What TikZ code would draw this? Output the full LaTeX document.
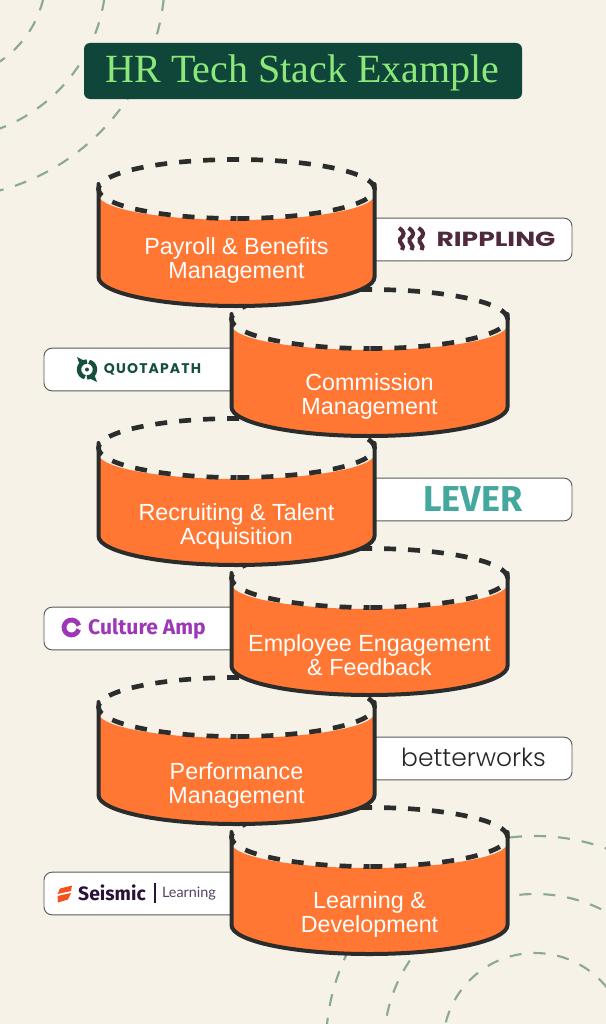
\documentclass[tikz,border=0pt]{standalone}
\usepackage{fontspec}
\setmainfont{Liberation Sans}
\newfontfamily\titlefont{Liberation Serif}
\newfontfamily\wordfont[FakeStretch=1.3]{Poppins}
\newfontfamily\quotafont[LetterSpace=8]{Poppins}
\newfontfamily\thinfont[UprightFont=* Light]{Poppins}
\newfontfamily\markfont{Fira Sans}
\newfontfamily\lightfont{Lato}
\usepackage{tikz}
\usetikzlibrary{positioning}
\definecolor{paper}{HTML}{F6F2E8}
\definecolor{pine}{HTML}{10463A}
\definecolor{mint}{HTML}{8CE878}
\definecolor{sage}{HTML}{8BA898}
\definecolor{ember}{HTML}{FF7733}
\definecolor{coal}{HTML}{2B2C2C}
\definecolor{plum}{HTML}{4E2A3C}
\definecolor{quotagreen}{HTML}{14503D}
\definecolor{leverteal}{HTML}{45A89E}
\definecolor{amp}{HTML}{9C38B6}
\definecolor{seis}{HTML}{2A1238}
\definecolor{seisred}{HTML}{F4511E}

\begin{document}
\begin{tikzpicture}[x=0.75pt,y=-0.75pt,
        sagearc/.style={draw=sage, line width=1.6pt, dash pattern=on 9pt off 9pt},
        logobox/.style={rectangle, draw=black!65, fill=white, line width=0.7pt, rounded corners=6pt, minimum width=#1, minimum height=32pt, inner sep=0pt},
        stacklabel/.style={text=white, align=center, font=\fontsize{17.5}{18}\selectfont, inner sep=0pt},
        stackdisc/.pic={
            \fill[paper] (0,0) ellipse [x radius=138, y radius=30];
            \fill[ember] (-138,6) arc [start angle=180, end angle=0, x radius=138, y radius=25] -- (138,88) arc [start angle=0, end angle=180, x radius=138, y radius=29] -- cycle;
            \draw[coal, line width=3pt, line cap=round] (-138,-5) -- (-138,88) arc [start angle=180, end angle=0, x radius=138, y radius=29] -- (138,-5);
            \draw[coal, line width=3.5pt, dash pattern=on 9pt off 9pt, dash phase=4.5pt] (0,29.5) arc [start angle=90, delta angle=360, x radius=138, y radius=29.5];
        }]

        \clip (0,0) rectangle (606,1024);
        \fill[paper] (0,0) rectangle (606,1024);

        % rings in the corners
        \foreach \r in {104,164,223} {
            \draw[sagearc] (-58,-25) circle [radius=\r];
        }
        \foreach \r in {92,151,209} {
            \draw[sagearc] (535,1045) circle [radius=\r];
        }

        % title
        \node[rectangle, fill=pine, rounded corners=4.5pt, minimum width=328.5pt, minimum height=42pt, inner sep=0pt] (titlebox) at (303,71) {};
        \node[text=mint, font=\titlefont\fontsize{30}{32}\selectfont, inner sep=0pt] (title) at (302.5,73) {HR Tech Stack Example};

        % bottom of the stack first, each disc hides the one under it
        \node[logobox=150pt] (seismicbox) at (144,893.5) {};
        \fill[seisred] (60,888.5) -- (72,885.5) -- (71,891) -- (57.5,894) -- cycle (57.5,896) -- (71,893) -- (68,899.5) -- (58,902.5) -- cycle;
        \node[text=seis, font=\markfont\bfseries\fontsize{14.5}{16}\selectfont, inner sep=0pt] (seismic) at (112,893) {Seismic};
        \node[rectangle, fill=seis, minimum width=1pt, minimum height=15pt, inner sep=0pt] (seismicbar) at (155,893) {};
        \node[text=seis!80, font=\lightfont\fontsize{10.8}{14}\selectfont, inner sep=0pt] (seismicsub) at (189,894) {Learning};
        \pic at (369.5,837) {stackdisc};
        \node[stacklabel] (learning) at (369.5,914.5) {Learning \&\\Development};

        \node[logobox=174pt] (betterbox) at (456,758.5) {};
        \node[text=black!85, font=\thinfont\fontsize{18.7}{22}\selectfont, inner sep=0pt] (better) at (473.5,757.5) {betterworks};
        \pic at (236.5,707) {stackdisc};
        \node[stacklabel] (performance) at (236.5,785) {Performance\\Management};

        \node[logobox=150pt] (ampbox) at (144,628.5) {};
        \draw[amp, line width=3.6pt] (71.5,627.5) ++(-15:7.5) arc [start angle=-15, delta angle=-330, radius=7.5];
        \node[text=amp, font=\markfont\bfseries\fontsize{15.8}{18}\selectfont, inner sep=0pt] (amptext) at (147,629) {Culture Amp};
        \pic at (369.5,578) {stackdisc};
        \node[stacklabel] (engagement) at (369.5,655.5) {Employee Engagement\\\& Feedback};

        \node[logobox=174pt] (leverbox) at (456,499.5) {};
        \node[text=leverteal, font=\markfont\bfseries\fontsize{27}{28}\selectfont, inner sep=0pt] (lever) at (473,499.5) {LEVER};
        \pic at (236.5,448) {stackdisc};
        \node[stacklabel] (recruiting) at (236.5,526) {Recruiting \& Talent\\Acquisition};

        \node[logobox=150pt] (quotabox) at (144,369.5) {};
        \draw[quotagreen, line width=3.3pt] (87,369.5) ++(270:8) arc [start angle=270, delta angle=-165, radius=8];
        \draw[quotagreen, line width=3.3pt] (87,369.5) ++(90:8) arc [start angle=90, delta angle=-165, radius=8];
        \fill[quotagreen] (77,357) -- (84,360.5) -- (79.5,364) -- cycle (97,382) -- (90,378.5) -- (94.5,375) -- cycle;
        \fill[quotagreen] (87,369.5) circle [radius=2];
        \node[text=quotagreen, font=\quotafont\bfseries\fontsize{10.5}{12}\selectfont, inner sep=0pt] (quota) at (152.5,369.5) {QUOTAPATH};
        \pic at (369.5,319) {stackdisc};
        \node[stacklabel] (commission) at (369.5,396.5) {Commission\\Management};

        \node[logobox=174pt] (ripplingbox) at (456,239.5) {};
        \foreach \xx in {399,408.5,418.5} {
            \draw[plum, line width=3pt] (\xx,228) .. controls (\xx+6,232) and (\xx+6,235) .. (\xx+1,239) .. controls (\xx-1,243) and (\xx+7,245) .. (\xx+3,250);
        }
        \node[text=plum, font=\wordfont\bfseries\fontsize{15.3}{16}\selectfont, inner sep=0pt] (rippling) at (496,239) {RIPPLING};
        \pic at (236.5,189) {stackdisc};
        \node[stacklabel] (payroll) at (236.5,260) {Payroll \& Benefits\\Management};

\end{tikzpicture}
\end{document}
